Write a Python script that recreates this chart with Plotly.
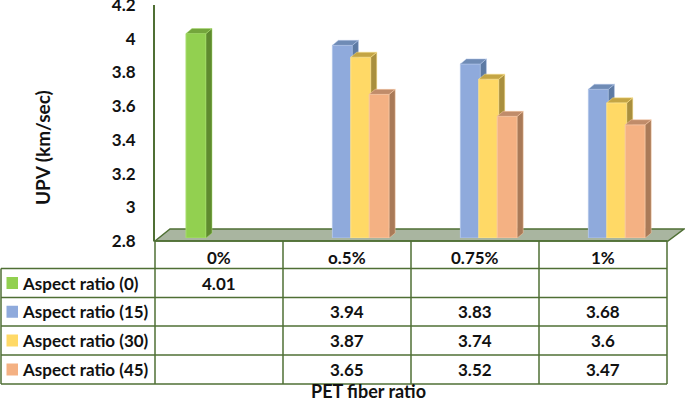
import plotly.graph_objects as go

W, H = 685, 402

categories = ["0%", "o.5%", "0.75%", "1%"]
series_names = ["Aspect ratio (0)", "Aspect ratio (15)", "Aspect ratio (30)", "Aspect ratio (45)"]
ratio_0 = [4.01, None, None, None]
ratio_15 = [None, 3.94, 3.83, 3.68]
ratio_30 = [None, 3.87, 3.74, 3.6]
ratio_45 = [None, 3.65, 3.52, 3.47]
all_values = [ratio_0, ratio_15, ratio_30, ratio_45]

front_colors = ["#92d050", "#8faadc", "#ffd966", "#f4b183"]
edge_colors = ["#a6dc6c", "#b0c4e8", "#ffe48c", "#f8c8a4"]
side_colors = ["#5f8a2f", "#5d7aa3", "#a98f3e", "#a97a58"]
top_colors = ["#74a63c", "#6f8bb5", "#c4a544", "#c08c6a"]

LINE = "#4f6f34"
TEXT = "#111111"
FONT = "Lato"
Y_MIN, Y_MAX = 2.8, 4.2

# pixel geometry of the picture
PLOT_L, COL_W = 155, 128
PX_PER_UNIT = 169.0
BAR_W = 20 / COL_W
SLOT = 18.4 / COL_W
FIRST_SLOT = -23 / COL_W
DEPTH_X = 6 / COL_W
DEPTH_Y = 5 / PX_PER_UNIT
rows_y = [241, 268.5, 297.5, 326, 355, 384]


def px(x):
    return x / W


def py(y):
    return 1 - y / H


def label(x, xref, y, text, size=17, **kw):
    return dict(x=x, xref=xref, y=py(y), yref="paper", text="<b>%s</b>" % text, showarrow=False,
                yanchor="middle", font=dict(family=FONT, size=size, color=TEXT), **kw)


fig = go.Figure()

# the visible value axis only shows if a trace uses it
fig.add_trace(go.Scatter(x=[0], y=[Y_MIN], mode="none", showlegend=False, hoverinfo="skip"))

for i, vals in enumerate(all_values):
    ax = "y%d" % (i + 2)
    xs = [k + FIRST_SLOT + SLOT * i for k in range(len(categories)) if vals[k] is not None]
    ys = [v for v in vals if v is not None]
    side_x, side_y, top_x, top_y = [], [], [], []
    for x, v in zip(xs, ys):
        r = x + BAR_W / 2
        l = x - BAR_W / 2
        side_x += [r, r, r + DEPTH_X, r + DEPTH_X, r, None]
        side_y += [Y_MIN, v, v + DEPTH_Y, Y_MIN + DEPTH_Y, Y_MIN, None]
        top_x += [l, r, r + DEPTH_X, l + DEPTH_X, l, None]
        top_y += [v, v, v + DEPTH_Y, v + DEPTH_Y, v, None]
    fig.add_trace(go.Bar(x=xs, y=[v - Y_MIN for v in ys], base=Y_MIN, width=BAR_W, name=series_names[i],
                         marker=dict(color=front_colors[i], line=dict(color=edge_colors[i], width=1)),
                         yaxis=ax, showlegend=False))
    fig.add_trace(go.Scatter(x=side_x, y=side_y, mode="lines", fill="toself", fillcolor=side_colors[i],
                             line=dict(color=edge_colors[i], width=0.5), yaxis=ax, showlegend=False,
                             hoverinfo="skip", cliponaxis=False))
    fig.add_trace(go.Scatter(x=top_x, y=top_y, mode="lines", fill="toself", fillcolor=top_colors[i],
                             line=dict(color=edge_colors[i], width=0.5), yaxis=ax, showlegend=False,
                             hoverinfo="skip", cliponaxis=False))

shapes = []
# floor of the 3d chart
shapes.append(dict(type="path", xref="paper", yref="paper", layer="below",
                   path="M %f %f L %f %f L %f %f L %f %f Z" % (
                       px(155), py(241), px(170), py(229), px(684), py(229), px(668), py(241)),
                   fillcolor="#a9b5a0", line=dict(color=LINE, width=1.5)))
# table grid
x_lines = [PLOT_L + COL_W * k for k in range(len(categories) + 1)]
for x in x_lines:
    shapes.append(dict(type="line", xref="paper", yref="paper", x0=px(x), x1=px(x),
                       y0=py(rows_y[0]), y1=py(rows_y[-1]), line=dict(color=LINE, width=1.5)))
for k, y in enumerate(rows_y):
    x0 = 1 if k > 0 else PLOT_L
    shapes.append(dict(type="line", xref="paper", yref="paper", x0=px(x0), x1=px(x_lines[-1]),
                       y0=py(y), y1=py(y), line=dict(color=LINE, width=1.5)))
shapes.append(dict(type="line", xref="paper", yref="paper", x0=px(1), x1=px(1),
                   y0=py(rows_y[1]), y1=py(rows_y[-1]), line=dict(color=LINE, width=1.5)))

annotations = []
for k, c in enumerate(categories):
    annotations.append(label(k, "x", 257, c, xanchor="center"))
for i, vals in enumerate(all_values):
    yc = (rows_y[i + 1] + rows_y[i + 2]) / 2
    shapes.append(dict(type="rect", xref="paper", yref="paper", x0=px(6.5), x1=px(18), y0=py(yc - 6), y1=py(yc + 6),
                       fillcolor=front_colors[i], line=dict(width=0)))
    annotations.append(label(px(20), "paper", yc, series_names[i], xanchor="left"))
    for k, v in enumerate(vals):
        if v is not None:
            annotations.append(label(k, "x", yc, v, xanchor="center"))
annotations.append(label(px(368), "paper", 390.5, "PET fiber ratio", size=18, xanchor="center"))
annotations.append(label(px(42), "paper", 148, "UPV (km/sec)", size=19, textangle=-90, xanchor="center"))

bar_domain = [py(238), py(238 - (Y_MAX - Y_MIN) * PX_PER_UNIT)]
layout_axes = {}
for i in range(len(all_values)):
    key = "yaxis%d" % (i + 2)
    layout_axes[key] = dict(range=[Y_MIN, Y_MAX], domain=bar_domain, visible=False, anchor="x", fixedrange=True)
    if i > 0:
        layout_axes[key]["overlaying"] = "y2"

fig.update_layout(
    width=W, height=H, margin=dict(l=0, r=0, t=0, b=0, autoexpand=False),
    paper_bgcolor="white", plot_bgcolor="rgba(0,0,0,0)",
    barmode="overlay", showlegend=False,
    xaxis=dict(range=[-0.5, 3.5], domain=[px(PLOT_L), px(PLOT_L + COL_W * 4)], visible=False),
    yaxis=dict(range=[Y_MIN, Y_MAX + 0.0001], domain=[py(241), py(5)], dtick=0.2, tick0=2.8, showgrid=False,
               zeroline=False, showline=True, linecolor=LINE, linewidth=2, ticks="", ticklabelstandoff=14, anchor="x",
               ticklabeloverflow="allow", tickfont=dict(family=FONT, size=17, color=TEXT),
               tickprefix="<b>", ticksuffix="</b>"),
    shapes=shapes, annotations=annotations,
    **layout_axes,
)

fig.write_html("out.html", post_script="document.body.style.margin='0';", config=dict(displayModeBar=False))
